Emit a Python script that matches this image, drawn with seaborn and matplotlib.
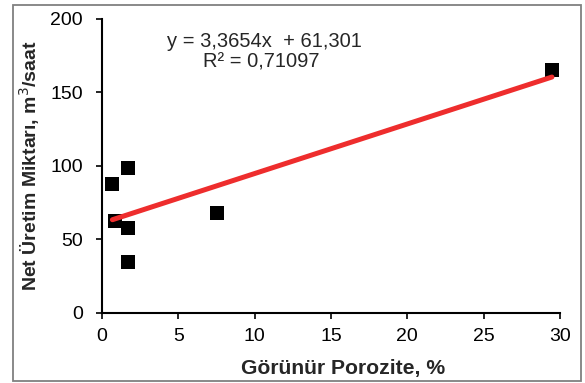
import matplotlib
matplotlib.use("Agg")
import matplotlib.pyplot as plt
import seaborn as sns
import pandas as pd
from matplotlib.patches import Rectangle

# Data
porosity = [0.68, 0.85, 1.70, 1.72, 1.68, 7.53, 29.47]
production = [88.0, 62.8, 98.4, 58.0, 34.9, 67.8, 165.3]
eq_text = "y = 3,3654x  + 61,301"
r2_text = "R² = 0,71097"
x_label = "Görünür Porozite, %"
y_label = "Net Üretim Miktarı, m$^3$/saat"
x_ticks = [0, 5, 10, 15, 20, 25, 30]
y_ticks = [0, 50, 100, 150, 200]

df = pd.DataFrame({"x": porosity, "y": production})

sns.set_style("ticks")
plt.rcParams["font.family"] = ["Liberation Sans", "DejaVu Sans"]

fig = plt.figure(figsize=(5.85, 3.83), dpi=100)
fig.patches.append(Rectangle((0.022, 0.005), 0.971, 0.982, transform=fig.transFigure,
                             fill=False, edgecolor="#808080", linewidth=1.3))
ax = fig.add_axes([0.1744, 0.1828, 0.7829, 0.7676])

sns.regplot(data=df, x="x", y="y", ax=ax, ci=None, truncate=True, marker="s",
            scatter_kws=dict(s=100, color="black", alpha=1, edgecolors="black",
                             linewidths=0, zorder=2),
            line_kws=dict(color="#ee2d2d", linewidth=3.6, solid_capstyle="round", zorder=3))

ax.set_xlim(0, 30)
ax.set_ylim(0, 200)
ax.set_xticks(x_ticks)
ax.set_yticks(y_ticks)
ax.tick_params(axis="both", direction="out", length=4.3, width=1.2, labelsize=14,
               colors="black")
ax.tick_params(axis="x", pad=6.5)
ax.tick_params(axis="y", pad=9.4)
for side in ["left", "bottom"]:
    ax.spines[side].set_linewidth(1.5)
    ax.spines[side].set_color("black")
sns.despine(ax=ax)

ax.set_xlabel(x_label, fontsize=15.2, fontweight="bold")
ax.set_ylabel(y_label, fontsize=14, fontweight="bold")
ax.xaxis.set_label_coords(0.526, -0.155)
ax.yaxis.set_label_coords(-0.131, 0.5)

ax.text(0.355, 0.925, eq_text, transform=ax.transAxes, ha="center", va="center", fontsize=14.5)
ax.text(0.348, 0.855, r2_text, transform=ax.transAxes, ha="center", va="center", fontsize=14.5)

fig.savefig("out.png", dpi=100)
